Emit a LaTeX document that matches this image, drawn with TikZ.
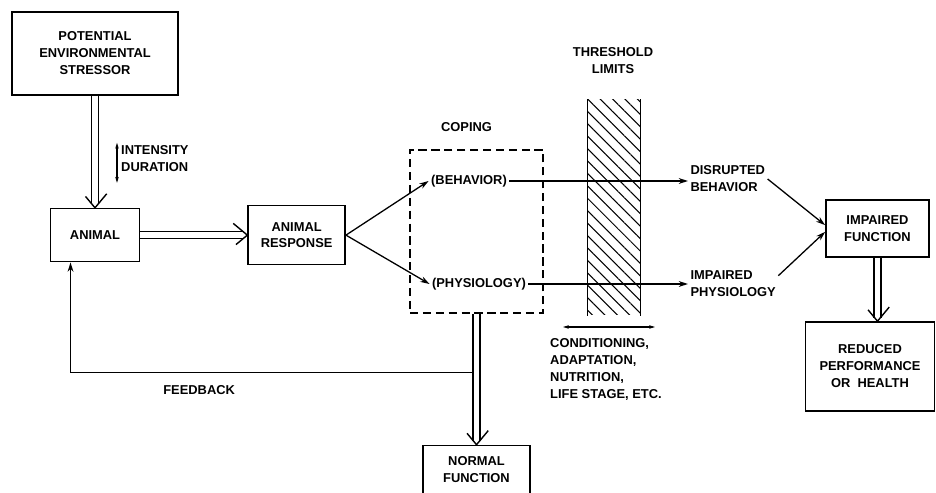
\documentclass[tikz,border=0pt]{standalone}
\usepackage{fontspec}
\setmainfont{Liberation Sans}
\usetikzlibrary{arrows.meta, calc, positioning, decorations.markings, patterns.meta}

\begin{document}
\begin{tikzpicture}[
    node distance=1cm,
    lbl/.style={font=\fontsize{11}{14.5}\selectfont\bfseries, align=center, inner sep=2pt},
    box/.style={lbl, rectangle, draw, line width=1.4pt},
    arrow/.style={-{Stealth[length=8pt, width=5pt]}, line width=1.1pt},
    twoway/.style={{Stealth[length=5pt, width=3pt]}-{Stealth[length=5pt, width=3pt]}, line width=0.9pt},
    dblarrow/.style={double, double distance=5pt, line width=1.2pt, shorten >=3pt,
        postaction={decorate, decoration={markings, mark=at position 1 with {\draw[line width=1.2pt] (-12pt,10pt) -- (0,0) -- (-12pt,-10pt);}}}}
]
    \useasboundingbox (0,0) rectangle (28.08,14.79);

    % 刺激源与动物
    \node[box, minimum width=4.98cm, minimum height=2.49cm] (stressor) at (2.85,13.185) {POTENTIAL\\ENVIRONMENTAL\\STRESSOR};
    \node[box, minimum width=2.67cm, minimum height=1.59cm, below=3.36cm of stressor] (animal) {ANIMAL};
    \node[box, minimum width=2.91cm, minimum height=1.77cm, right=3.21cm of animal] (response) {ANIMAL\\RESPONSE};
    \node[lbl, align=left, anchor=west, inner sep=0pt] (intensity) at (3.63,10.035) {INTENSITY\\DURATION};

    % 应对
    \node[draw, line width=1.2pt, dash pattern=on 7pt off 4pt, minimum width=3.99cm, minimum height=4.89cm] (coping) at (14.295,7.845) {};
    \node[lbl, above=0.45cm of coping, xshift=-0.3cm] (copinglbl) {COPING};
    \node[lbl] (behavior) at (14.07,9.36) {(BEHAVIOR)};
    \node[lbl] (physio) at (14.37,6.27) {(PHYSIOLOGY)};
    \node[box, minimum width=3.21cm, minimum height=1.47cm, below=3.93cm of coping] (normal) {NORMAL\\FUNCTION};

    % 阈值
    \node[minimum width=1.56cm, minimum height=6.45cm, pattern={Lines[angle=-45, distance=7.5pt, line width=0.9pt]}] (hatch) at (18.42,8.565) {};
    \node[lbl] (threshold) at (18.39,12.96) {THRESHOLD\\LIMITS};
    \node[lbl, align=left, anchor=north west, inner sep=0pt] (conditions) at (16.5,4.65) {CONDITIONING,\\ADAPTATION,\\NUTRITION,\\LIFE STAGE, ETC.};
    \coordinate (rangeL) at (16.89,4.98);
    \coordinate (rangeR) at (19.65,4.98);

    % 结果
    \node[lbl, align=left, anchor=west] (disrupted) at (20.64,9.42) {DISRUPTED\\BEHAVIOR};
    \node[lbl, align=left, anchor=west] (impphys) at (20.64,6.27) {IMPAIRED\\PHYSIOLOGY};
    \node[box, minimum width=3.09cm, minimum height=1.71cm] (impfun) at (26.325,7.935) {IMPAIRED\\FUNCTION};
    \node[box, minimum width=3.87cm, minimum height=2.67cm] (reduced) at (26.1,3.795) {REDUCED\\PERFORMANCE\\OR~~HEALTH};

    % 箭头
    \draw[line width=1.2pt] (hatch.north west) -- (hatch.south west) (hatch.north east) -- (hatch.south east);
    \draw[twoway] ($(intensity.west)+(-0.12,0.47)$) -- ($(intensity.west)+(-0.12,-0.73)$);
    \draw[twoway] (rangeL) -- (rangeR);
    \draw[dblarrow] (stressor) -- (animal);
    \draw[dblarrow] (animal) -- (response);
    \draw[arrow] (response.east) -- (behavior.west);
    \draw[arrow] (response.east) -- (physio.west);
    \draw[arrow] (behavior.east) -- (behavior.east -| disrupted.west);
    \draw[arrow] (physio.east) -- (physio.east -| impphys.west);
    \draw[arrow] (disrupted.east) -- ([yshift=0.1cm]impfun.west);
    \draw[arrow] ([yshift=0.25cm]impphys.east) -- ([yshift=-0.1cm]impfun.west);
    \draw[dblarrow] (impfun.south) -- (impfun.south |- reduced.north);
    \draw[dblarrow] (coping) -- (normal);

    % 反馈
    \coordinate (fb) at ($(coping.south)+(-0.12,-1.77)$);
    \draw[arrow] (fb) -| node[lbl, below=0.3cm, pos=0.34] (feedback) {FEEDBACK} ($(animal.south west)!0.23!(animal.south east)$);
\end{tikzpicture}
\end{document}
